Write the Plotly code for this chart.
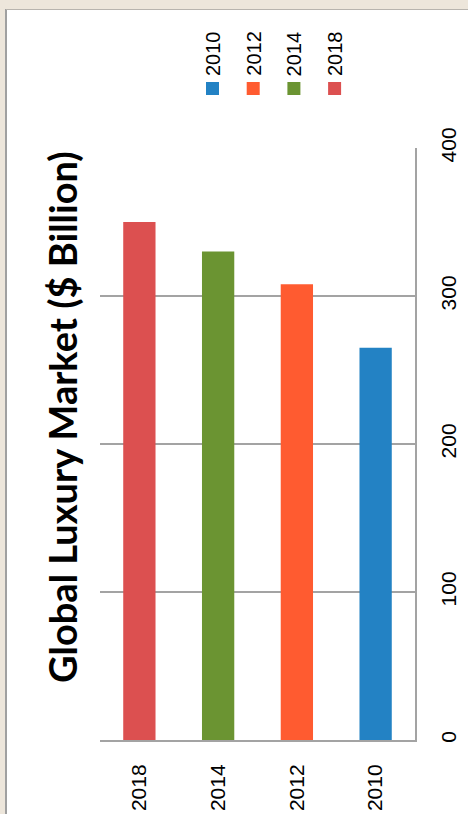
import plotly.graph_objects as go

# ---- data ----
categories = ["2018", "2014", "2012", "2010"]
values = [350, 330, 308, 265]
bar_colors = ["#DC5050", "#6B9432", "#FF5B30", "#2382C4"]
legend_labels = ["2010", "2012", "2014", "2018"]
legend_colors = ["#2382C4", "#FF5B30", "#6B9432", "#DC5050"]
y_ticks = [0, 100, 200, 300, 400]
title_text = "Global Luxury Market ($ Billion)"

# ---- geometry ----
W, H = 468, 814
L, R, T, B = 100, 53, 148, 74
pw, ph = W - L - R, H - T - B


def px(x):
    return (x - L) / pw


def py(y):
    return (H - B - y) / ph


FONT = "Liberation Sans, Arial, sans-serif"
GRID = "#A3A3A3"

fig = go.Figure(
    go.Bar(
        x=categories,
        y=values,
        marker=dict(color=bar_colors, line=dict(width=0)),
        width=0.41,
        showlegend=False,
        hoverinfo="skip",
    )
)

shapes = [
    # white panel
    dict(type="rect", xref="paper", yref="paper", x0=px(6.5), x1=px(W + 5), y0=py(H + 5), y1=py(9.5),
         fillcolor="white", line=dict(width=0), layer="below"),
    # left border
    dict(type="line", xref="paper", yref="paper", x0=px(6), x1=px(6), y0=py(9), y1=py(H + 5),
         line=dict(color="#A0A0A0", width=2), layer="below"),
    # top border
    dict(type="line", xref="paper", yref="paper", x0=px(6), x1=px(W + 5), y0=py(9.5), y1=py(9.5),
         line=dict(color="#B8B4AE", width=1.2), layer="below"),
]

annotations = [
    dict(text="<b>" + title_text + "</b>", xref="paper", yref="paper", x=px(62), y=py(417),
         textangle=-90, showarrow=False, xanchor="center", yanchor="middle",
         font=dict(family="Lato, Liberation Sans, sans-serif", size=38, color="black")),
]

leg_x0, leg_dx = 212.5, 40.7
for i, (lab, col) in enumerate(zip(legend_labels, legend_colors)):
    cx = leg_x0 + leg_dx * i
    annotations.append(dict(text=lab, xref="paper", yref="paper", x=px(cx), y=py(53.5),
                            textangle=-90, showarrow=False, xanchor="center", yanchor="middle",
                            font=dict(family=FONT, size=20, color="black")))
    shapes.append(dict(type="rect", xref="paper", yref="paper", x0=px(cx - 6.5), x1=px(cx + 6.5),
                       y0=py(95), y1=py(82), fillcolor=col, line=dict(width=0)))

fig.update_layout(
    width=W,
    height=H,
    autosize=False,
    margin=dict(l=L, r=R, t=T, b=B, pad=0, autoexpand=False),
    paper_bgcolor="#EDE6DB",
    plot_bgcolor="white",
    bargap=0.59,
    shapes=shapes,
    annotations=annotations,
    xaxis=dict(
        type="category",
        automargin=False,
        showgrid=False,
        showline=True,
        linecolor=GRID,
        linewidth=2,
        ticks="outside",
        ticklen=14,
        tickcolor="rgba(0,0,0,0)",
        tickangle=-90,
        tickfont=dict(family=FONT, size=21, color="black"),
        fixedrange=True,
    ),
    yaxis=dict(
        side="right",
        automargin=False,
        range=[0, 400],
        tickvals=y_ticks,
        showgrid=True,
        gridcolor=GRID,
        gridwidth=1.5,
        zeroline=False,
        showline=True,
        linecolor=GRID,
        linewidth=2,
        ticks="outside",
        ticklen=14,
        tickcolor="rgba(0,0,0,0)",
        tickangle=-90,
        tickfont=dict(family=FONT, size=21, color="black"),
        fixedrange=True,
    ),
)

fig.write_html("out.html")
